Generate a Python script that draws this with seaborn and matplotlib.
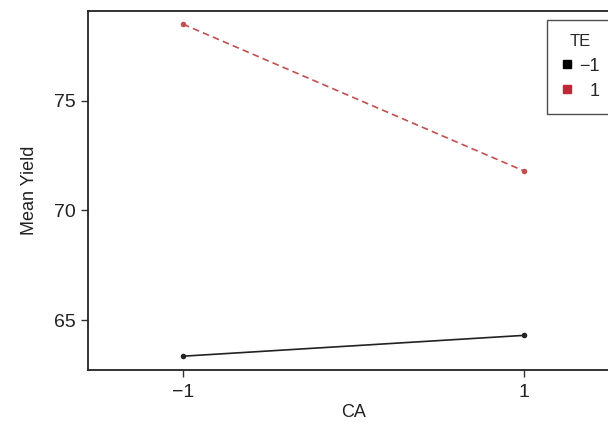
import matplotlib
matplotlib.use("Agg")
import matplotlib.pyplot as plt
import seaborn as sns
import pandas as pd
from matplotlib.lines import Line2D

ca_levels = [-1, 1]
te_levels = ["\u22121", "1"]
yield_te_neg = [63.35, 64.3]
yield_te_pos = [78.5, 71.8]

df = pd.DataFrame({
    "CA": ca_levels * 2,
    "TE": [te_levels[0]] * 2 + [te_levels[1]] * 2,
    "Mean Yield": yield_te_neg + yield_te_pos,
})

sns.set_style("ticks")
plt.rcParams["font.family"] = ["Liberation Sans", "DejaVu Sans"]

colors = {te_levels[0]: "black", te_levels[1]: "#c0283a"}
line_colors = {te_levels[0]: "#222222", te_levels[1]: "#c05050"}

fig = plt.figure(figsize=(6.08, 4.42), dpi=100)
ax = fig.add_axes([88/608, 1-370/442, (619-88)/608, (370-11)/442])

sns.lineplot(data=df, x="CA", y="Mean Yield", hue="TE", style="TE",
             palette=line_colors, dashes={te_levels[0]: "", te_levels[1]: (4, 2.5)},
             markers={te_levels[0]: "o", te_levels[1]: "o"}, markersize=4,
             markeredgewidth=0, linewidth=1.2, ax=ax, legend=False)

ax.set_xlim(-1.557, 1.557)
ax.set_ylim(62.72, 79.1)
ax.set_xticks(ca_levels)
ax.set_xticklabels(["\u22121", "1"])
ax.set_yticks([65, 70, 75])
ax.tick_params(axis="both", labelsize=14, length=5, width=1, colors="#333333", labelcolor="#222222")
ax.tick_params(axis="x", pad=5)
ax.set_xlabel("CA", fontsize=13, labelpad=2, color="#222222")
ax.set_ylabel("Mean Yield", fontsize=13, labelpad=12, color="#222222")
for s in ax.spines.values():
    s.set_color("#222222")
    s.set_linewidth(1.3)

handles = [Line2D([], [], linestyle="none", marker="s", markersize=6,
                  color=colors[t]) for t in te_levels]
legend_labels = ["\u22121", "\u20071"]
leg = fig.legend(handles, legend_labels, title="TE", loc="upper left",
                 bbox_to_anchor=(547/608, 1-20/442), frameon=True, fontsize=13,
                 title_fontsize=12, handlelength=0.6, handletextpad=0.4,
                 borderpad=0.8, labelspacing=0.45, borderaxespad=0, fancybox=False)
leg.get_frame().set_edgecolor("#222222")
leg.get_frame().set_linewidth(1.0)

fig.savefig("out.png", dpi=100)
